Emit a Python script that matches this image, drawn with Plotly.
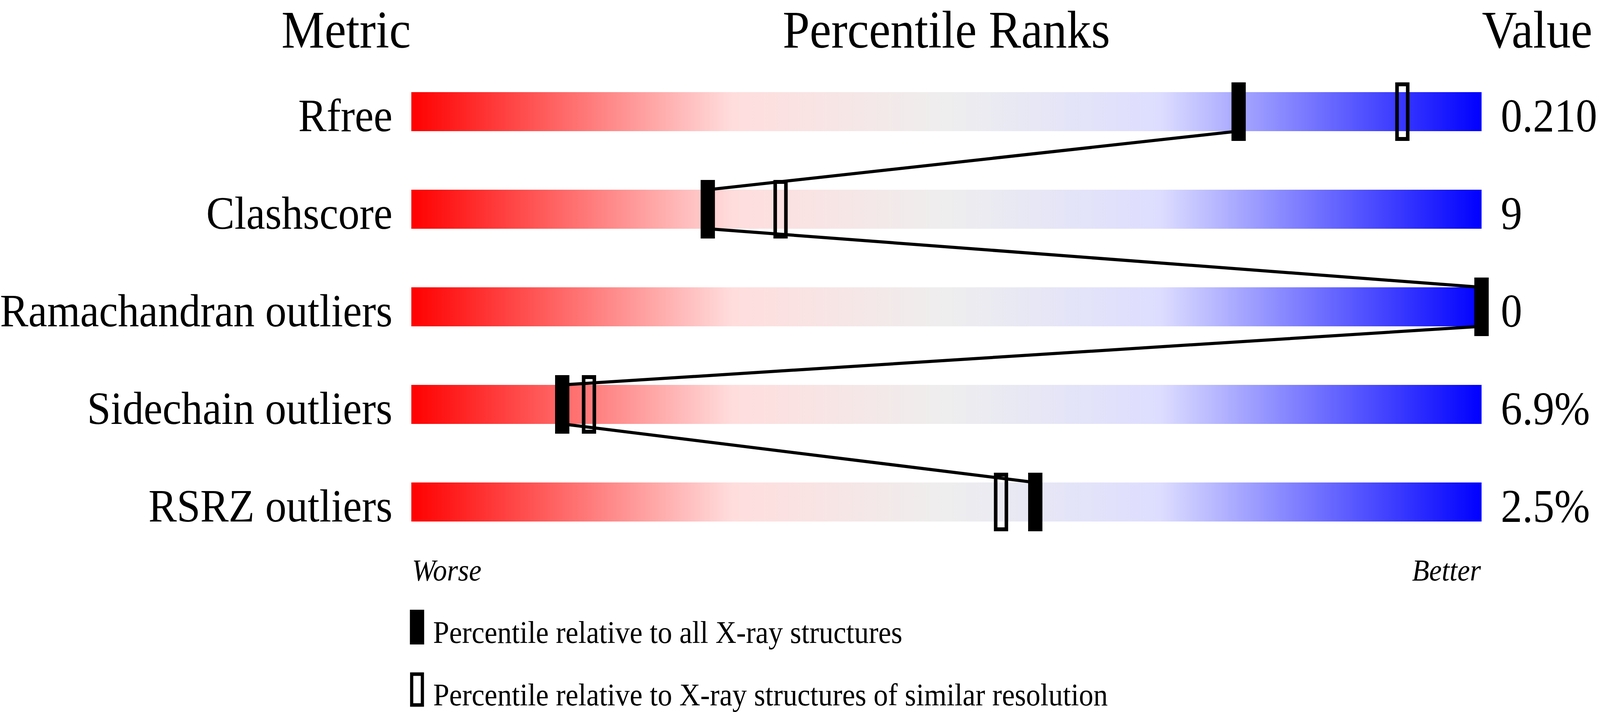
import plotly.graph_objects as go

# Validation metrics, top to bottom
metrics = ['Rfree', 'Clashscore', 'Ramachandran outliers', 'Sidechain outliers', 'RSRZ outliers']
values = ['0.210', '9', '0', '6.9%', '2.5%']

# Percentile ranks
pct_all = [77.3, 27.7, 100.0, 14.1, 58.3]        # relative to all X-ray structures
pct_similar = [92.6, 34.5, 100.0, 16.6, 55.1]    # relative to similar resolution

legend_labels = ['Percentile relative to all X-ray structures',
                 'Percentile relative to X-ray structures of similar resolution']

# Slider colour ramp, worse (red) to better (blue)
ramp = [[0.0, '#ff0000'], [0.3, '#ffdddd'], [0.5, '#eeeeee'],
        [0.7, '#ddddff'], [1.0, '#0000ff']]

W, H = 4485, 1824
FONT = 'Liberation Serif'
BAR_H = 0.2          # half bar height in row units


def px(x_px, y_px):
    # pixel position -> paper coordinates
    return x_px / W, 1 - y_px / H


fig = go.Figure()

# Gradient sliders
for i, name in enumerate(metrics):
    fig.add_trace(go.Scatter(
        x=[0, 100, 100, 0, 0],
        y=[i - BAR_H, i - BAR_H, i + BAR_H, i + BAR_H, i - BAR_H],
        mode='lines', fill='toself',
        fillgradient=dict(type='horizontal', colorscale=ramp, start=0, stop=100),
        line=dict(width=0, color='rgba(0,0,0,0)'),
        hoverinfo='skip', showlegend=False))

# Zig-zag line joining the "all structures" markers
line_x, line_y = [], []
for i, p in enumerate(pct_all):
    line_x += [p, p]
    line_y += [i - BAR_H, i + BAR_H]
fig.add_trace(go.Scatter(x=line_x, y=line_y, mode='lines',
                         line=dict(color='black', width=8),
                         hoverinfo='skip', showlegend=False))

# Hollow markers (similar resolution), then filled ones on top
for i, p in enumerate(pct_similar):
    fig.add_shape(type='rect', xref='x', yref='y',
                  xsizemode='pixel', ysizemode='pixel',
                  xanchor=p, yanchor=i, x0=-15, x1=15, y0=-70, y1=70,
                  line=dict(color='black', width=10),
                  fillcolor='rgba(0,0,0,0)')
for i, p in enumerate(pct_all):
    fig.add_shape(type='rect', xref='x', yref='y',
                  xsizemode='pixel', ysizemode='pixel',
                  xanchor=p, yanchor=i, x0=-20, x1=20, y0=-75, y1=75,
                  line=dict(width=0), fillcolor='black')

# Row labels and values
for i, (name, val) in enumerate(zip(metrics, values)):
    fig.add_annotation(x=0, y=i, xref='x', yref='y', text=name,
                       xanchor='right', yanchor='middle', xshift=-51, yshift=-10,
                       showarrow=False, font=dict(family=FONT, size=119, color='black'))
    fig.add_annotation(x=100, y=i, xref='x', yref='y', text=val,
                       xanchor='left', yanchor='middle', xshift=52, yshift=-10,
                       showarrow=False, font=dict(family=FONT, size=120, color='black'))

# Column headers (kept just inside the top edge)
for text, x, anchor in [('Metric', 0, 'right'),
                        ('Percentile Ranks', 50, 'center'),
                        ('Value', 100, 'left')]:
    fig.add_annotation(x=x, y=1, xref='x', yref='paper', text=text,
                       xanchor=anchor, yanchor='top', borderpad=0,
                       showarrow=False, font=dict(family=FONT, size=136, color='black'))

# Worse / Better
wb_y = px(0, 1460)[1]
fig.add_annotation(x=0, y=wb_y, xref='x', yref='paper', text='<i>Worse</i>',
                   xanchor='left', yanchor='middle', showarrow=False,
                   font=dict(family=FONT, size=79, color='black'))
fig.add_annotation(x=100, y=wb_y, xref='x', yref='paper', text='<i>Better</i>',
                   xanchor='right', yanchor='middle', showarrow=False,
                   font=dict(family=FONT, size=79, color='black'))

# Legend: (marker top, marker bottom, text centre) in pixels
leg_rows = [(1562, 1651, 1620), (1722, 1811, 1780)]
for k, (top, bot, mid) in enumerate(leg_rows):
    if k == 0:
        x0, y0 = px(1149, top)
        x1, y1 = px(1189, bot)
        fig.add_shape(type='rect', xref='paper', yref='paper',
                      x0=x0, x1=x1, y0=y1, y1=y0,
                      line=dict(width=0), fillcolor='black')
    else:
        x0, y0 = px(1154, top + 5)
        x1, y1 = px(1184, bot - 5)
        fig.add_shape(type='rect', xref='paper', yref='paper',
                      x0=x0, x1=x1, y0=y1, y1=y0,
                      line=dict(color='black', width=9),
                      fillcolor='rgba(0,0,0,0)')
    fig.add_annotation(x=px(1212, 0)[0], y=px(0, mid)[1], xref='paper', yref='paper',
                       text=legend_labels[k], xanchor='left', yanchor='middle',
                       showarrow=False, font=dict(family=FONT, size=81, color='black'))

fig.update_xaxes(range=[-1153 / 30, (W - 1153) / 30], visible=False, fixedrange=True)
fig.update_yaxes(range=[(H - 286) / 250, -286 / 250], visible=False, fixedrange=True)

fig.update_layout(width=W, height=H,
                  margin=dict(l=0, r=0, t=0, b=0),
                  plot_bgcolor='white', paper_bgcolor='white',
                  showlegend=False)

# The browser may give a narrower window than the figure; squeeze the
# whole figure into the visible page so nothing is cut off.
fit_page = """
var gd = document.getElementById('{plot_id}');
document.documentElement.style.margin = '0';
document.body.style.margin = '0';
document.documentElement.style.overflow = 'hidden';
document.body.style.overflow = 'hidden';
var sx = Math.min(1, window.innerWidth / %d);
var sy = Math.min(1, window.innerHeight / %d);
gd.style.transformOrigin = '0 0';
gd.style.transform = 'scale(' + sx + ',' + sy + ')';
""" % (W, H)
fig.write_html('out.html', post_script=fit_page, config={'displayModeBar': False})
